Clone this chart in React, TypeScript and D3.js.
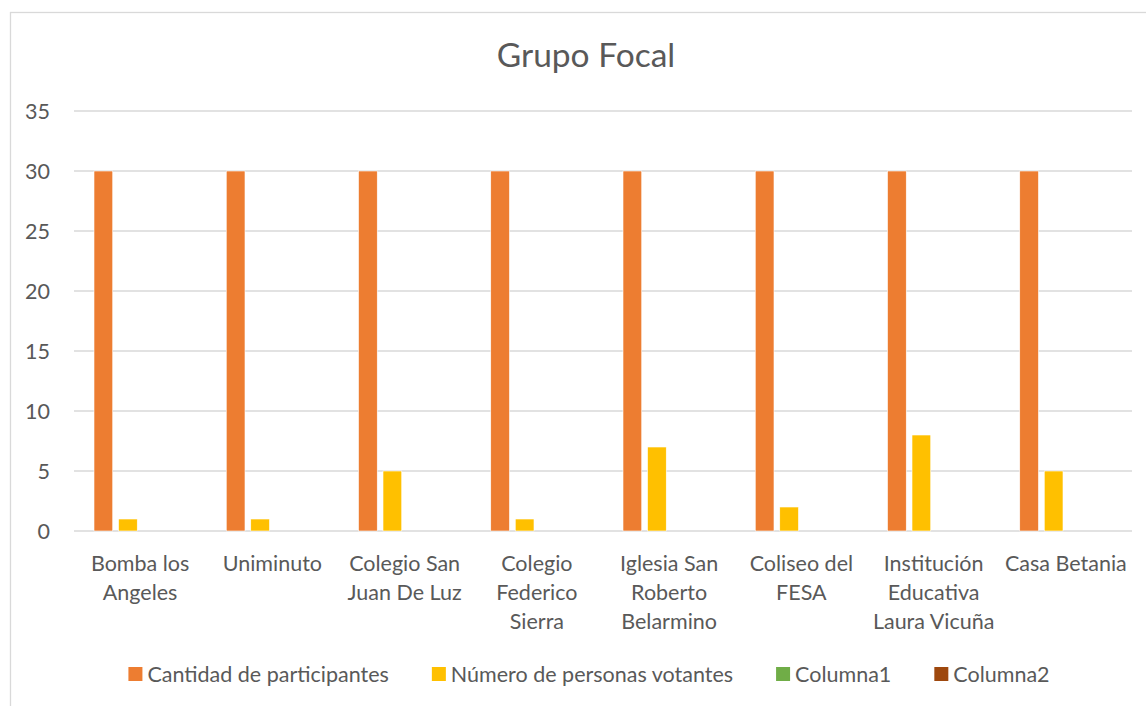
import React, { useLayoutEffect, useRef, useState } from "react";
import * as d3 from "d3";

const categories = [
  "Bomba los Angeles",
  "Uniminuto",
  "Colegio San Juan De Luz",
  "Colegio Federico Sierra",
  "Iglesia San Roberto Belarmino",
  "Coliseo del FESA",
  "Institución Educativa Laura Vicuña",
  "Casa Betania",
];
// how the axis labels wrap
const categoryLines = [
  ["Bomba los", "Angeles"],
  ["Uniminuto"],
  ["Colegio San", "Juan De Luz"],
  ["Colegio", "Federico", "Sierra"],
  ["Iglesia San", "Roberto", "Belarmino"],
  ["Coliseo del", "FESA"],
  ["Institución", "Educativa", "Laura Vicuña"],
  ["Casa Betania"],
];

const participantes = [30, 30, 30, 30, 30, 30, 30, 30];
const votantes = [1, 1, 5, 1, 7, 2, 8, 5];
const columna1: (number | null)[] = [null, null, null, null, null, null, null, null];
const columna2: (number | null)[] = [null, null, null, null, null, null, null, null];

const seriesNames = ["Cantidad de participantes", "Número de personas votantes", "Columna1", "Columna2"];
const seriesColors = ["#ED7D31", "#FFC000", "#70AD47", "#9E480E"];
const yTicks = [0, 5, 10, 15, 20, 25, 30, 35];

const W = 1146;
const H = 706;
const FONT = "Lato, 'Open Sans', sans-serif";
const TEXT = "#595959";
const FS = 21.5;

export default function App() {
  const legendRef = useRef<SVGGElement>(null);
  const [widths, setWidths] = useState<number[]>(seriesNames.map(s => s.length * 10));

  useLayoutEffect(() => {
    if (!legendRef.current) return;
    const texts = legendRef.current.querySelectorAll("text");
    const w = Array.from(texts).map(t => (t as SVGTextElement).getComputedTextLength());
    if (w.some((v, i) => Math.abs(v - widths[i]) > 0.5)) setWidths(w);
  }, [widths]);

  const left = 74, right = 1132, top = 111, bottom = 531;

  const x = d3.scaleBand<string>().domain(categories).range([left, right]).padding(0);
  const inner = d3
    .scaleBand<number>()
    .domain([0, 1, 2, 3])
    .range([20, x.bandwidth() - 20])
    .paddingInner(0.235)
    .paddingOuter(0);
  const y = d3.scaleLinear().domain([0, 35]).range([bottom, top]);

  const series = [participantes, votantes, columna1, columna2];

  // legend layout
  const sw = 14, swGap = 5, itemGap = 43;
  const itemW = widths.map(w => sw + swGap + w);
  const totalW = d3.sum(itemW) + itemGap * (itemW.length - 1);
  const cx = 589;
  let lx = cx - totalW / 2;
  const legendX = itemW.map(w => {
    const v = lx;
    lx += w + itemGap;
    return v;
  });

  return (
    <svg width={W} height={H} style={{ position: "absolute", left: 0, top: 0, background: "#fff" }}>
      <rect x={10.5} y={12.5} width={W + 20} height={H + 20} fill="#fff" stroke="#D9D9D9" strokeWidth={1.3} />

      <text x={586} y={67} textAnchor="middle" fontFamily={FONT} fontSize={33.5} fill={TEXT}>
        Grupo Focal
      </text>

      {/* grid + y labels */}
      {yTicks.map(t => (
        <g key={"g" + t}>
          <line x1={left} x2={right} y1={y(t)} y2={y(t)} stroke="#D9D9D9" strokeWidth={1.3} />
          <text x={50} y={y(t)} dy="0.35em" textAnchor="end" fontFamily={FONT} fontSize={FS} fill={TEXT}>
            {t}
          </text>
        </g>
      ))}

      {/* bars */}
      {categories.map((c, i) => (
        <g key={c} transform={`translate(${x(c)},0)`}>
          {series.map((s, j) => {
            const v = s[i];
            if (v == null || v === 0) return null;
            return (
              <rect
                key={j}
                x={inner(j)}
                y={y(v)}
                width={inner.bandwidth()}
                height={y(0) - y(v)}
                fill={seriesColors[j]}
                stroke="#fff"
                strokeWidth={0.6}
              />
            );
          })}
        </g>
      ))}

      {/* x labels */}
      {categories.map((c, i) => (
        <text
          key={"l" + c}
          x={(x(c) ?? 0) + x.bandwidth() / 2}
          y={571}
          textAnchor="middle"
          fontFamily={FONT}
          fontSize={FS}
          fill={TEXT}
        >
          {categoryLines[i].map((line, k) => (
            <tspan key={k} x={(x(c) ?? 0) + x.bandwidth() / 2} dy={k === 0 ? 0 : 29}>
              {line}
            </tspan>
          ))}
        </text>
      ))}

      {/* legend */}
      <g ref={legendRef}>
        {seriesNames.map((n, i) => (
          <g key={n} transform={`translate(${legendX[i]},0)`}>
            <rect x={0} y={667} width={sw} height={sw} fill={seriesColors[i]} />
            <text x={sw + swGap} y={674} dy="0.35em" fontFamily={FONT} fontSize={FS} fill={TEXT}>
              {n}
            </text>
          </g>
        ))}
      </g>
    </svg>
  );
}
